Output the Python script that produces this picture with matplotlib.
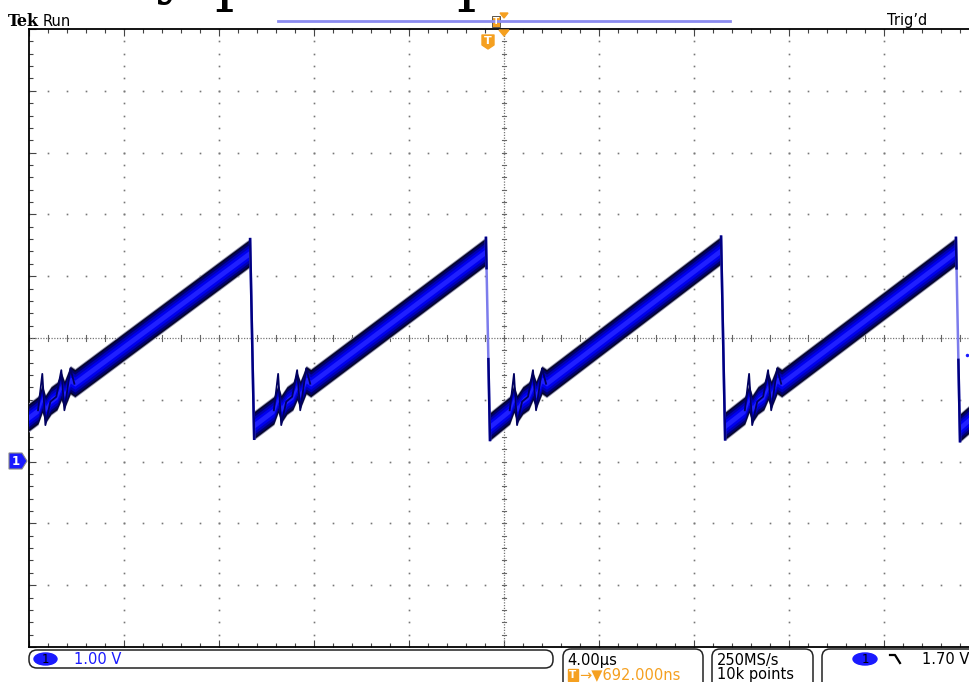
import matplotlib
matplotlib.use("Agg")
import matplotlib.pyplot as plt
from matplotlib.patches import FancyBboxPatch, Ellipse, Polygon, Rectangle
from matplotlib.ticker import MultipleLocator

# --- waveform (time in us, level in V) ---
fall_t = [-20.62, -10.69, -0.76, 9.14, 19.03, 28.95]   # falling edges (first/last off screen)
peak_v = [3.38, 3.38, 3.40, 3.42, 3.40, 3.40]          # level just before each fall
base_v = [0.59, 0.59, 0.57, 0.58, 0.55, 0.57]          # level just after each fall
bottom_dt = 0.17                                       # fall duration

# ringing right after each fall (offset from the fall, level)
ring_dt = [1.00, 1.18, 1.31, 1.55, 1.80, 1.98, 2.11, 2.36, 2.55]
ring_v = [0.83, 1.02, 0.85, 0.99, 1.06, 1.22, 1.08, 1.32, 1.27]
spike_dt = [1.00, 1.18, 1.31, 1.52, 1.77, 1.98, 2.11, 2.23, 2.36, 2.53]
spike_v = [0.83, 1.42, 0.59, 0.97, 1.05, 1.48, 0.83, 1.15, 1.51, 1.26]

noise_half = 0.22     # half height of the noise band, V

# scope settings / readouts
volts_div = "1.00 V"
time_div = "4.00\u00b5s"
trig_delay = "692.000ns"
sample_rate = "250MS/s"
rec_len = "10k points"
trig_level = "1.70 V"

W, H = 969, 682
fig = plt.figure(figsize=(W / 100, H / 100), dpi=100)
fig.patch.set_facecolor("white")

# graticule: 10 x 10 divisions, right part runs off the picture
ax = fig.add_axes([29 / W, 35 / H, 950 / W, 618 / H])
ax.set_xlim(-20, 20)
ax.set_ylim(-3, 7)
ax.set_facecolor("white")
for s in ["left", "top", "bottom"]:
    ax.spines[s].set_linewidth(1.3)
    ax.spines[s].set_color("black")
ax.spines["right"].set_visible(False)
ax.xaxis.set_major_locator(MultipleLocator(4))
ax.xaxis.set_minor_locator(MultipleLocator(0.8))
ax.yaxis.set_major_locator(MultipleLocator(1))
ax.yaxis.set_minor_locator(MultipleLocator(0.2))
ax.tick_params(which="both", direction="in", top=True, bottom=True, left=True, right=False,
               labelbottom=False, labelleft=False, color="#444444", width=0.8)
ax.tick_params(which="major", length=5)
ax.tick_params(which="minor", length=3)

grid_c = "#777777"
xs_minor = [-20 + 0.8 * i for i in range(51)]
ys_minor = [-3 + 0.2 * i for i in range(51)]
for gx in [-16, -12, -8, -4, 4, 8, 12, 16]:
    ax.plot([gx] * len(ys_minor), ys_minor, ls="none", marker="s", ms=1.2, mew=0, color=grid_c)
for gy in [-2, -1, 0, 1, 3, 4, 5, 6]:
    ax.plot(xs_minor, [gy] * len(xs_minor), ls="none", marker="s", ms=1.2, mew=0, color=grid_c)
# centre lines with small ticks
ax.axvline(0, color="#777777", lw=0.9, ls=(0, (1, 1.2)))
ax.axhline(2, color="#777777", lw=0.9, ls=(0, (1, 1.2)))
for xm in xs_minor:
    ax.plot([xm, xm], [1.955, 2.045], color="#666666", lw=0.8)
for ym in ys_minor:
    ax.plot([-0.1, 0.1], [ym, ym], color="#666666", lw=0.8)

# noise band of each ramp
layers = [(1.08, "#9a9ab8"), (1.0, "#06062a"), (0.85, "#00006a"), (0.66, "#0000b4"),
          (0.45, "#0000ee"), (0.22, "#2020ff")]
for i in range(len(fall_t) - 1):
    ts = [fall_t[i] + bottom_dt] + [fall_t[i] + d for d in ring_dt] + [fall_t[i + 1]]
    vs = [base_v[i]] + ring_v + [peak_v[i + 1]]
    for k, c in layers:
        lo = [v - noise_half * k for v in vs]
        hi = [v + noise_half * k for v in vs]
        ax.fill_between(ts, lo, hi, color=c, lw=0, zorder=3)
    ax.plot([fall_t[i] + d for d in spike_dt], spike_v, color="#000060", lw=1.3, zorder=4)

# falling edges
for i in range(1, len(fall_t)):
    x0, x1 = fall_t[i], fall_t[i] + bottom_dt
    y0, y1 = peak_v[i] + noise_half, base_v[i] - noise_half
    ax.plot([x0, x1], [y0, y1], color="#7c7cec", lw=1.8, zorder=4)
    if i in (1, 3):
        ax.plot([x0, x1], [y0, y1], color="#000080", lw=1.8, zorder=5)
    else:
        ax.plot([x0, x0 + (x1 - x0) * 0.15], [y0, y0 + (y1 - y0) * 0.15], color="#000080", lw=1.8, zorder=5)
        ax.plot([x0 + (x1 - x0) * 0.6, x1], [y0 + (y1 - y0) * 0.6, y1], color="#000080", lw=1.8, zorder=5)

# overlay in screen pixels for the readouts and markers
ov = fig.add_axes([0, 0, 1, 1], facecolor="none")
ov.set_xlim(0, W)
ov.set_ylim(H, 0)
ov.axis("off")
ov.set_zorder(5)

orange = "#f5a020"
blue = "#1a1aff"
font = "DejaVu Sans"

# cut-off document text above the screenshot (only descenders remain)
ov.text(172, -9, "y", fontsize=44, family="DejaVu Serif", ha="center", va="baseline")
ov.text(234, -1, "p", fontsize=44, family="DejaVu Serif", ha="center", va="baseline")
ov.text(476, -1, "p", fontsize=44, family="DejaVu Serif", ha="center", va="baseline")

ov.text(8, 21, "Tek", fontsize=11.5, family="DejaVu Serif", weight="bold", va="center")
ov.text(43, 21, "Run", fontsize=10.5, family=font, va="center")
ov.text(887, 20, "Trig\u2019d", fontsize=10.5, family=font, va="center")

# record view bar and trigger markers
ov.plot([278, 730], [20.5, 20.5], color="#8c8cf0", lw=2)
ov.add_patch(Rectangle((492, 16), 8, 11, facecolor=orange, edgecolor="#444444", lw=0.6))
ov.text(496, 21.5, "T", color="white", fontsize=6.5, weight="bold", ha="center", va="center")
ov.add_patch(Polygon([(500, 13), (508, 13), (504, 18)], closed=True, color=orange))
ov.add_patch(Polygon([(499, 30), (509, 30), (504, 36)], closed=True, color=orange))
ov.add_patch(Polygon([(482, 35), (494, 35), (494, 45), (488, 49), (482, 45)], closed=True,
                     facecolor=orange, edgecolor=orange, lw=1, joinstyle="round"))
ov.text(488, 41.5, "T", color="white", fontsize=8, weight="bold", ha="center", va="center")

# channel 1 ground marker and trigger level marker
ov.add_patch(Polygon([(9, 453), (22, 453), (27, 461), (22, 469), (9, 469)], closed=True,
                     facecolor=blue, edgecolor="#888888", lw=0.8))
ov.text(16, 461.5, "1", color="white", fontsize=8.5, weight="bold", ha="center", va="center")
ov.plot([967.5], [355], marker="o", ms=2.5, color=blue, mew=0)

# readout boxes
def box(x0, x1, y0, y1):
    ov.add_patch(FancyBboxPatch((x0, y0), x1 - x0, y1 - y0,
                                boxstyle="round,pad=0,rounding_size=8",
                                facecolor="none", edgecolor="#222222", lw=1.1))

box(29, 553, 650, 668)
box(563, 703, 649, 700)
box(712, 813, 649, 700)
box(822, 1000, 649, 700)

ov.add_patch(Ellipse((45.5, 659), 23, 12, color=blue))
ov.text(45.5, 659.5, "1", fontsize=8.5, ha="center", va="center", family=font)
ov.text(74, 659, volts_div, fontsize=10.5, color=blue, va="center", family=font)

ov.text(567, 660, time_div, fontsize=10.5, va="center", family=font)
ov.add_patch(Rectangle((568, 669), 10, 12, color=orange))
ov.text(573, 675.5, "T", fontsize=7.5, color="white", weight="bold", ha="center", va="center")
ov.text(579, 675, "\u2192\u25bc" + trig_delay, fontsize=10.5, color=orange, va="center", family=font)

ov.text(717, 660, sample_rate, fontsize=10.5, va="center", family=font)
ov.text(717, 675, rec_len, fontsize=10.5, va="center", family=font)

ov.add_patch(Ellipse((865, 659), 24, 12, color=blue))
ov.text(865, 659.5, "1", fontsize=8.5, ha="center", va="center", family=font)
ov.plot([890, 895, 900], [655, 655, 663], color="black", lw=1.6)
ov.text(922, 659, trig_level, fontsize=10.5, va="center", family=font)

fig.savefig("out.png", dpi=100)
